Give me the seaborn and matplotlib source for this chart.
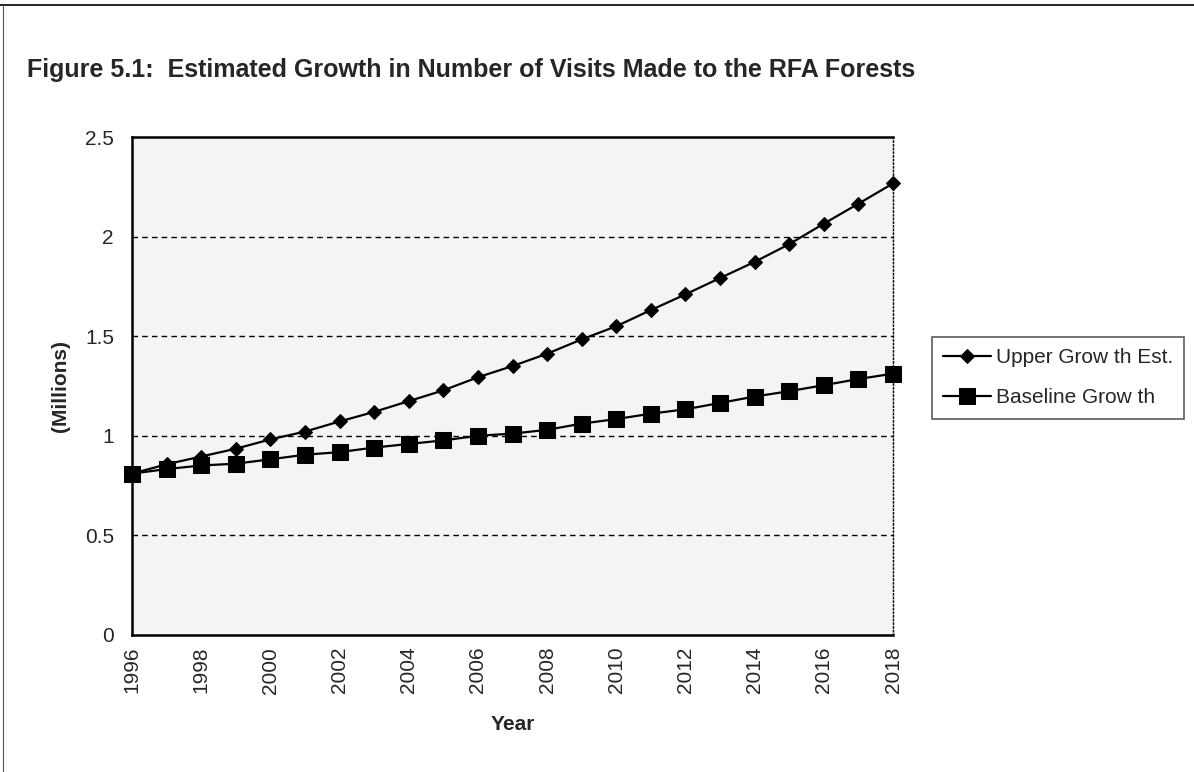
import pandas as pd
import matplotlib
matplotlib.use('Agg')
import matplotlib.pyplot as plt
from matplotlib.lines import Line2D
import seaborn as sns

# Values (millions of visits)
years = list(range(1996, 2019))
upper_growth = [0.81, 0.857, 0.896, 0.935, 0.982, 1.021, 1.072, 1.120, 1.174, 1.228, 1.294, 1.350,
                1.412, 1.484, 1.550, 1.631, 1.710, 1.792, 1.873, 1.962, 2.065, 2.165, 2.267]
baseline_growth = [0.81, 0.833, 0.851, 0.860, 0.882, 0.905, 0.918, 0.941, 0.959, 0.977, 1.000, 1.011,
                   1.030, 1.061, 1.084, 1.111, 1.133, 1.165, 1.197, 1.224, 1.254, 1.285, 1.312]
series_names = ['Upper Grow th Est.', 'Baseline Grow th']
y_ticks = [0, 0.5, 1, 1.5, 2, 2.5]
y_tick_labels = ['0', '0.5', '1', '1.5', '2', '2.5']
x_tick_labels = [str(y) if y % 2 == 0 else '' for y in years]

df = pd.DataFrame({'Year': years, 'Upper': upper_growth, 'Baseline': baseline_growth})

sns.set_style('white')
plt.rcParams['font.family'] = ['Liberation Sans', 'DejaVu Sans']

fig = plt.figure(figsize=(11.94, 7.72), dpi=100)
ax = fig.add_axes([132 / 1194, 137 / 772, 761 / 1194, 498 / 772])
ax.set_facecolor('#f4f4f4')

sns.lineplot(data=df, x='Year', y='Upper', ax=ax, color='black', linewidth=1.6,
             marker='D', markersize=7, markeredgecolor='black', clip_on=False,
             label=series_names[0])
sns.lineplot(data=df, x='Year', y='Baseline', ax=ax, color='black', linewidth=1.6,
             marker='s', markersize=11, markeredgecolor='black', clip_on=False,
             label=series_names[1])

ax.set_xlim(1996, 2018)
ax.set_ylim(0, 2.5)
ax.set_yticks(y_ticks)
ax.set_yticklabels(y_tick_labels, fontsize=15)
ax.set_xticks(years)
ax.set_xticklabels(x_tick_labels, rotation=90, fontsize=15)
ax.tick_params(axis='y', direction='out', length=9, width=1.2, color='black', pad=4)
ax.tick_params(axis='x', direction='inout', length=9, width=1.0, color='black', pad=4)

for y in y_ticks[1:-1]:
    ax.axhline(y, color='black', linestyle=(0, (4, 3)), linewidth=1.0, zorder=1)

for side in ['left', 'bottom', 'top']:
    ax.spines[side].set_color('black')
    ax.spines[side].set_linewidth(1.8)
ax.spines['right'].set_color('black')
ax.spines['right'].set_linewidth(1.0)
ax.spines['right'].set_linestyle(':')

ax.set_xlabel('Year', fontsize=15, fontweight='bold')
ax.set_ylabel('(Millions)', fontsize=15, fontweight='bold')
ax.xaxis.set_label_coords(0.5, -0.16)
ax.yaxis.set_label_coords(-0.081, 0.5)

leg = ax.legend(loc='upper left', bbox_to_anchor=(932 / 1194, 1 - 337 / 772),
                bbox_transform=fig.transFigure, fontsize=15, frameon=True, fancybox=False,
                handlelength=2.3, handletextpad=0.2, borderpad=0.55, labelspacing=1.0,
                borderaxespad=0)
leg.get_frame().set_edgecolor('#333333')
leg.get_frame().set_linewidth(1.2)

fig.text(27 / 1194, 1 - 70 / 772,
         'Figure 5.1:  Estimated Growth in Number of Visits Made to the RFA Forests',
         fontsize=18, fontweight='bold', va='center', ha='left')

# page frame of the scanned figure
fig.add_artist(Line2D([0, 1], [1 - 5 / 772, 1 - 5 / 772], color='black', linewidth=1.2,
                      transform=fig.transFigure))
fig.add_artist(Line2D([3 / 1194, 3 / 1194], [0, 1 - 5 / 772], color='#555555', linewidth=0.8,
                      transform=fig.transFigure))

fig.savefig('out.png', dpi=100)
